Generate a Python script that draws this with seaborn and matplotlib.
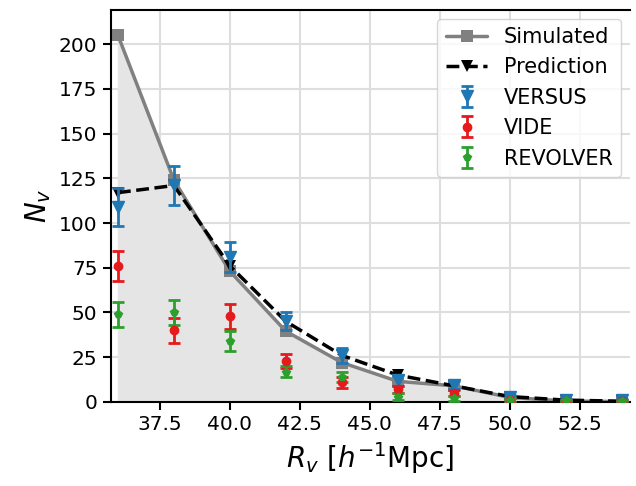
import numpy as np
import pandas as pd
import seaborn as sns
import matplotlib.pyplot as plt

# void radius bins
r_v = [36, 38, 40, 42, 44, 46, 48, 50, 52, 54]

# simulated and predicted abundances
simulated = [205, 124, 73, 39.5, 22, 11.5, 9, 2.5, 0.5, 0.2]
prediction = [117, 121, 76, 45, 26, 15, 9, 3, 1, 0.4]

# void finders: counts and errors
versus = [109, 121, 81, 45, 26, 12, 9.5, 3, 1, 1]
versus_err = [10.5, 11, 8.5, 5, 4, 3, 2, 1, 0.8, 0.8]
vide = [76, 40, 48, 23, 11, 7, 5, 1, 0.5, 0.5]
vide_err = [8.5, 7, 7, 4, 3, 2, 1.5, 1, 0.5, 0.5]
revolver = [49, 50, 34, 17, 14, 3, 2, 1, 0.8, 0.5]
revolver_err = [7, 7, 5.5, 3, 3, 2, 1.5, 1, 0.5, 0.5]

sns.set_style("whitegrid", {"grid.color": "#dedede", "axes.edgecolor": "black",
                            "text.color": "black", "xtick.color": "black",
                            "ytick.color": "black", "axes.labelcolor": "black"})
plt.rcParams['font.family'] = ['DejaVu Sans']

df = pd.DataFrame({'R': r_v, 'Simulated': simulated, 'Prediction': prediction})

fig = plt.figure(figsize=(6.36, 4.86), dpi=100)
ax = fig.add_axes([0.174, 0.173, 0.816, 0.806])

ax.fill_between(df['R'], 0, df['Simulated'], color='#e5e5e5', zorder=1)
sns.lineplot(data=df, x='R', y='Simulated', color='gray', lw=2.5, marker='s',
             markersize=8, markeredgewidth=0, label='Simulated', ax=ax, zorder=2)
sns.lineplot(data=df, x='R', y='Prediction', color='black', lw=2.5, ls='--',
             marker='v', markersize=8, markeredgewidth=0,
             label='Prediction', ax=ax, zorder=3)

ax.errorbar(r_v, versus, yerr=versus_err, fmt='v', color='#1f77b4', ms=9,
            capsize=4, elinewidth=2, capthick=2, label='VERSUS', zorder=4)
ax.errorbar(r_v, vide, yerr=vide_err, fmt='o', color='#e41a1c', ms=6,
            capsize=4, elinewidth=2, capthick=2, label='VIDE', zorder=4)
ax.errorbar(r_v, revolver, yerr=revolver_err, fmt='p', color='#2ca02c', ms=6,
            capsize=4, elinewidth=2, capthick=2, label='REVOLVER', zorder=4)

ax.set_xlim(35.74, 54.28)
ax.set_ylim(0, 219)
ax.set_xticks([37.5, 40.0, 42.5, 45.0, 47.5, 50.0, 52.5])
ax.set_yticks(range(0, 201, 25))
ax.grid(True, lw=1.5)
ax.spines['right'].set_visible(False)
for s in ['left', 'bottom', 'top']:
    ax.spines[s].set_linewidth(1.5)
ax.tick_params(axis='both', which='major', labelsize=14.5, length=6, width=1.5,
               direction='out', left=True, bottom=True, color='black',
               labelcolor='black')

ax.set_xlabel(r'$R_v\ [h^{-1}\mathrm{Mpc}]$', fontsize=20, color='black')
ax.set_ylabel(r'$N_v$', fontsize=20, color='black')

leg = ax.legend(loc='upper right', fontsize=15, frameon=True, handlelength=2,
                borderaxespad=0.4)
for t in leg.get_texts():
    t.set_color('black')

fig.savefig('out.png', dpi=100)
